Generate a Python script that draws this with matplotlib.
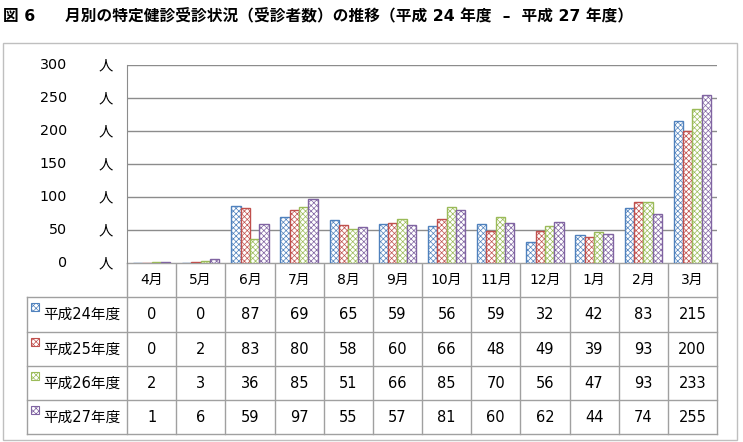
import numpy as np
import matplotlib
matplotlib.use("Agg")
import matplotlib.pyplot as plt
from matplotlib.patches import Rectangle

plt.rcParams['font.family'] = ['DejaVu Sans', 'Noto Sans CJK JP']
plt.rcParams['hatch.linewidth'] = 0.5

months = ["4月", "5月", "6月", "7月", "8月", "9月", "10月", "11月", "12月", "1月", "2月", "3月"]
series_names = ["平成24年度", "平成25年度", "平成26年度", "平成27年度"]
h24 = [0, 0, 87, 69, 65, 59, 56, 59, 32, 42, 83, 215]
h25 = [0, 2, 83, 80, 58, 60, 66, 48, 49, 39, 93, 200]
h26 = [2, 3, 36, 85, 51, 66, 85, 70, 56, 47, 93, 233]
h27 = [1, 6, 59, 97, 55, 57, 81, 60, 62, 44, 74, 255]
series = [h24, h25, h26, h27]
colors = ["#4F81BD", "#C0504D", "#9BBB59", "#8064A2"]
yticks = [0, 50, 100, 150, 200, 250, 300]

W, H = 743, 442
fig = plt.figure(figsize=(W / 100, H / 100), dpi=100)

# overlay in pixel coords for border, title and data table
ov = fig.add_axes([0, 0, 1, 1])
ov.set_xlim(0, W)
ov.set_ylim(H, 0)
ov.axis("off")
ov.patch.set_alpha(0)

ov.text(3, 16, "図 6", fontsize=11.3, fontweight="bold", va="center", ha="left")
ov.text(65, 16, "月別の特定健診受診状況（受診者数）の推移（平成 24 年度  –  平成 27 年度）",
        fontsize=11.3, fontweight="bold", va="center", ha="left")
ov.add_patch(Rectangle((3, 43), 734, 397, fill=False, edgecolor="#BFBFBF", lw=1))

# bar axes
x0, x1, ytop, ybot = 127, 717, 65, 263
ax = fig.add_axes([x0 / W, 1 - ybot / H, (x1 - x0) / W, (ybot - ytop) / H])
x = np.arange(len(months))
bw = 0.19
for i, (vals, c) in enumerate(zip(series, colors)):
    ax.bar(x + (i - 1.5) * bw, vals, width=bw, facecolor="white", edgecolor=c,
           hatch="xxxxxx", lw=1.0, zorder=3)
ax.set_xlim(-0.5, len(months) - 0.5)
ax.set_ylim(0, 300)
ax.set_yticks(yticks)
ax.set_yticklabels([])
ax.tick_params(length=0)
ax.set_xticks([])
ax.grid(axis="y", color="#8C8C8C", lw=1, zorder=0)
for s in ["top", "right", "bottom"]:
    ax.spines[s].set_visible(False)
ax.spines["left"].set_color("#8C8C8C")
trans = ax.get_yaxis_transform()
for v in yticks:
    ax.text(-0.102, v, str(v), transform=trans, ha="right", va="center", fontsize=10.3)
    ax.text(-0.037, v, "人", transform=trans, ha="center", va="center", fontsize=10.3)

# data table
cw = (x1 - x0) / len(months)
rows = [263, 297, 332, 366, 400, 434]
lc = "#A0A0A0"
ov.plot([x0, x1], [rows[0], rows[0]], color=lc, lw=1)
for r in rows[1:]:
    ov.plot([27, x1], [r, r], color=lc, lw=1)
ov.plot([27, 27], [rows[1], rows[-1]], color=lc, lw=1)
for j in range(len(months) + 1):
    xx = x0 + j * cw
    ov.plot([xx, xx], [rows[0], rows[-1]], color=lc, lw=1)
for j, m in enumerate(months):
    ov.text(x0 + (j + 0.5) * cw, (rows[0] + rows[1]) / 2, m, ha="center", va="center", fontsize=10)
for i, (name, vals, c) in enumerate(zip(series_names, series, colors)):
    top, bot = rows[i + 1], rows[i + 2]
    ov.add_patch(Rectangle((31, top + 6), 8, 8, facecolor="white", edgecolor=c, hatch="xxxxxx", lw=0.8))
    ov.text(43, (top + bot) / 2, name, ha="left", va="center", fontsize=10.5)
    for j, v in enumerate(vals):
        ov.text(x0 + (j + 0.5) * cw, (top + bot) / 2, str(v), ha="center", va="center", fontsize=10.5)

fig.savefig("out.png", dpi=100)
